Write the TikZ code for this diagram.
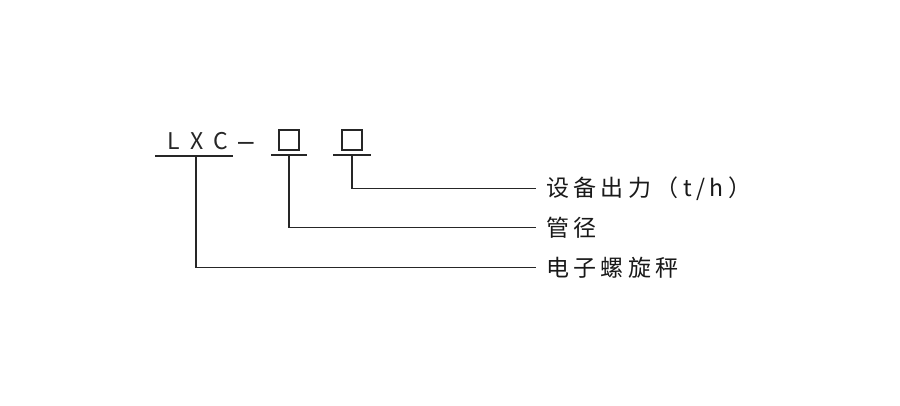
\documentclass[tikz,border=0pt]{standalone}
\usepackage{fontspec}
\setmainfont{Noto Sans CJK SC}
\newfontfamily\cjkfont[LetterSpace=19]{Noto Sans CJK SC}
\newfontfamily\latfont[LetterSpace=45]{Noto Sans CJK SC}
\newfontfamily\dashfont{Liberation Sans}
\begin{document}
\begin{tikzpicture}[x=1pt,y=-1pt,
  ln/.style={draw=black!85, line width=1.4pt},
  boxsym/.style={draw=black!85, line width=1.4pt, minimum width=20pt, minimum height=20pt, inner sep=0pt},
  lab/.style={anchor=west, inner sep=0pt, font=\cjkfont\fontsize{23}{23}\selectfont, text=black!90},
  code/.style={inner sep=0pt, font=\latfont\fontsize{23}{23}\selectfont, text=black!85}]
\fill[white] (0,0) rectangle (900,406);
\useasboundingbox (0,0) rectangle (900,406);
% model code
\node[code, anchor=base] (lxc) at (198,150) {LXC};
\node[code, anchor=base west, font=\dashfont\fontsize{28}{28}\selectfont] (dash) at (238,150.5) {–};
\node[boxsym] (b1) at (289,140) {};
\node[boxsym] (b2) at (352,140) {};
% underlines
\coordinate (u0l) at (155,156); \coordinate (u0r) at (233,156);
\coordinate (u1l) at (271,155); \coordinate (u1r) at (307,155);
\coordinate (u2l) at (333,155); \coordinate (u2r) at (371,155);
\coordinate (t0) at (196,156);
\coordinate (t1) at (289,155);
\coordinate (t2) at (352,155);
\draw[ln] (u0l) -- (u0r);
\draw[ln] (u1l) -- (u1r);
\draw[ln] (u2l) -- (u2r);
% labels
\node[lab] (l1) at (546,188.5) {设备出力（t/h）};
\node[lab] (l2) at (546,227.5) {管径};
\node[lab] (l3) at (546,267.5) {电子螺旋秤};
% connectors
\draw[ln] (t2) |- ([xshift=-10pt]l1.west);
\draw[ln] (t1) |- ([xshift=-10pt]l2.west);
\draw[ln] (t0) |- ([xshift=-10pt]l3.west);
\end{tikzpicture}
\end{document}
